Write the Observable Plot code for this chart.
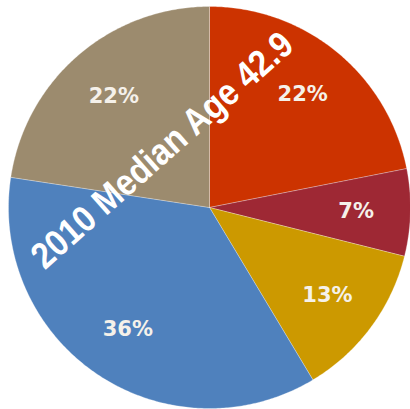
<!DOCTYPE html>
<html>
<head>
<meta charset="utf-8">
<script src="https://cdn.jsdelivr.net/npm/d3@7"></script>
<script src="https://cdn.jsdelivr.net/npm/@observablehq/plot@0.6"></script>
<style>
  html, body { margin: 0; padding: 0; background: #fff; }
  #chart svg { display: block; }
</style>
</head>
<body>
<div id="chart"></div>
<script>
// Data
const categories = ["A", "B", "C", "D", "E"];
const shares = [21.9, 7.0, 12.5, 36.0, 22.6];
const labels = ["22%", "7%", "13%", "36%", "22%"];
const colors = ["#CC3300", "#9E2834", "#CC9900", "#4F81BD", "#9C8B6E"];
const title = "2010 Median Age 42.9";

const R = 201;
const total = d3.sum(shares);
let acc = 0;
const slices = shares.map((v, i) => {
  const a0 = acc / total * 2 * Math.PI;
  acc += v;
  const a1 = acc / total * 2 * Math.PI;
  return {cat: categories[i], a0, a1, label: labels[i], color: colors[i]};
});

// polygon vertices for each slice
const pts = [];
for (const s of slices) {
  pts.push({cat: s.cat, x: 0, y: 0});
  const n = Math.max(2, Math.ceil((s.a1 - s.a0) / 0.01));
  for (let k = 0; k <= n; k++) {
    const a = s.a0 + (s.a1 - s.a0) * k / n;
    pts.push({cat: s.cat, x: R * Math.sin(a), y: R * Math.cos(a)});
  }
  pts.push({cat: s.cat, x: 0, y: 0});
}
const lr = 0.73 * R;
const labelPts = slices.map(s => {
  const m = (s.a0 + s.a1) / 2;
  return {x: lr * Math.sin(m), y: lr * Math.cos(m), label: s.label};
});

const chart = Plot.plot({
  width: 410,
  height: 409,
  margin: 0,
  x: {domain: [-209, 201], range: [0, 410], axis: null},
  y: {domain: [-202, 207], range: [409, 0], axis: null},
  color: {domain: categories, range: colors},
  marks: [
    Plot.line(pts, {x: "x", y: "y", z: "cat", fill: "cat", stroke: "#ffffff", strokeOpacity: 0.35, strokeWidth: 0.8, curve: "linear"}),
    Plot.text(labelPts, {x: "x", y: "y", text: "label", fill: "#f5f1ea", fontSize: 21, fontWeight: "bold", fontFamily: "'DejaVu Sans', Verdana, sans-serif", style: "letter-spacing:1.5px"}),
    Plot.text([title], {x: () => -47, y: () => 57, text: d => d, rotate: -41.5, fill: "#ffffff", fontSize: 37, fontWeight: "bold", fontFamily: "'Liberation Sans', Arial, sans-serif", className: "big-title"})
  ]
});
// condense the title horizontally (narrow bold look)
d3.select(chart).selectAll(".big-title text").each(function() {
  const t = this.getAttribute("transform") || "";
  this.setAttribute("transform", t + " scale(0.88,1)");
});
document.getElementById("chart").appendChild(chart);
</script>
</body>
</html>
